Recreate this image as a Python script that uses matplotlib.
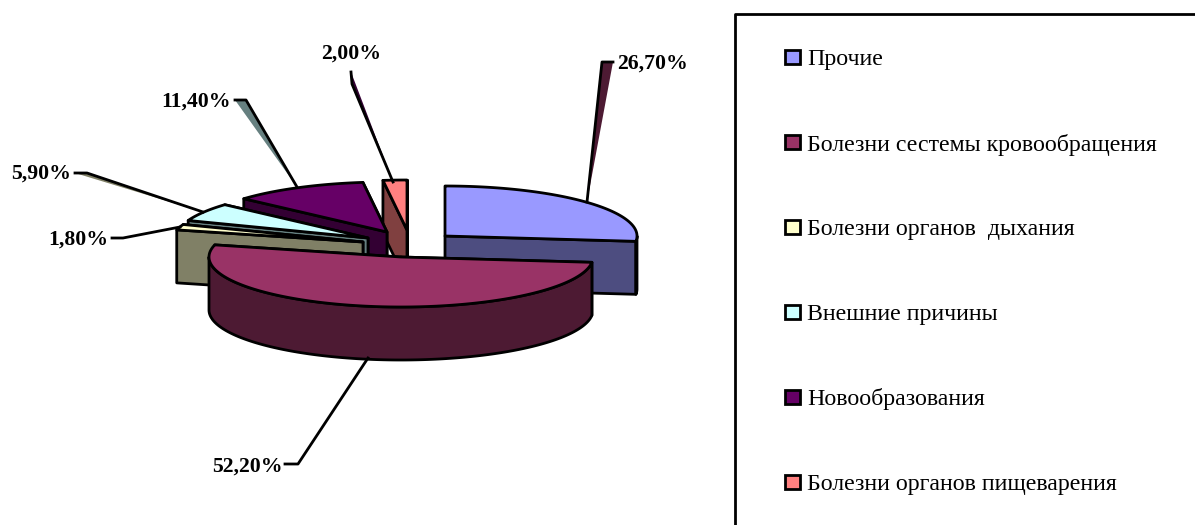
import numpy as np
import matplotlib
matplotlib.use("Agg")
import matplotlib.pyplot as plt
from matplotlib.colors import to_rgb

plt.rcParams["font.family"] = ["Liberation Serif", "DejaVu Serif"]

# Структура причин, %
names = ["Прочие", "Болезни сестемы кровообращения", "Болезни органов  дыхания",
         "Внешние причины", "Новообразования", "Болезни органов пищеварения"]
shares = [26.7, 52.2, 1.8, 5.9, 11.4, 2.0]
share_labels = ["26,70%", "52,20%", "1,80%", "5,90%", "11,40%", "2,00%"]
colors = ["#9999FF", "#993366", "#FFFFCC", "#CCFFFF", "#660066", "#FF8080"]

# геометрия псевдо-3D круга (в пикселях рисунка)
RX, RY = 192.0, 50.0
DEPTH = 53.0
LW = 2.0
apex = [(445, 236), (401, 257), (363, 242), (368, 238), (387, 232), (407, 230)]
draw_order = [5, 0, 4, 3, 2, 1]

# линии-выноски: точка на секторе, излом, конец; заливка - тень соседнего сектора
leaders = [[(587, 202), (602, 62), (613, 62)],
           [(368, 358), (298, 464), (285, 464)],
           [(180, 227), (123, 238), (112, 238)],
           [(203, 212), (87, 173), (75, 173)],
           [(297, 187), (246, 100), (235, 100)],
           [(393, 182), (352, 84), (351, 72)]]
leader_fill = [1, None, None, 2, 3, 4]
label_pos = [(617, 63.5), (283, 466.5), (108, 239.5), (71, 174), (231, 102), (351, 54)]
label_ha = ["left", "right", "right", "right", "right", "center"]


def shade(c):
    return tuple(v * 0.5 for v in to_rgb(c))


def rim(center, t1, t2):
    t = np.radians(np.linspace(t1, t2, max(int(abs(t2 - t1)) * 2, 2)))
    return center[0] + RX * np.sin(t), center[1] - RY * np.cos(t)


def extrude(ax, xs, ys, color, z):
    px = np.r_[xs, xs[::-1]]
    py = np.r_[ys, ys[::-1] + DEPTH]
    ax.fill(px, py, facecolor=color, edgecolor="black", lw=LW, joinstyle="round", zorder=z)


fig = plt.figure(figsize=(11.95, 5.25), dpi=100)
ax = fig.add_axes([0, 0, 1, 1])
ax.set_xlim(0, 1195)
ax.set_ylim(525, 0)
ax.axis("off")

# границы секторов по часовой стрелке от верхней точки
edges = np.r_[0, np.cumsum(shares)] * 3.6

for rank, i in enumerate(draw_order):
    t1, t2 = edges[i], edges[i + 1]
    c = apex[i]
    z = 2 + rank
    dark = shade(colors[i])

    # радиальные грани: сначала дальняя, потом ближняя
    for t in sorted([t1, t2], key=lambda a: -np.cos(np.radians(a))):
        ex, ey = rim(c, t, t)
        extrude(ax, np.array([c[0], ex[0]]), np.array([c[1], ey[0]]), dark, z)

    # внешняя стенка только на передней половине
    lo, hi = max(t1, 90), min(t2, 270)
    if hi > lo:
        wx, wy = rim(c, lo, hi)
        extrude(ax, wx, wy, dark, z)

    tx, ty = rim(c, t1, t2)
    ax.fill(np.r_[c[0], tx], np.r_[c[1], ty], facecolor=colors[i], edgecolor="black",
            lw=LW, joinstyle="round", zorder=z)

# выноски и подписи значений
for i in range(len(shares)):
    lx = [p[0] for p in leaders[i]]
    ly = [p[1] for p in leaders[i]]
    if leader_fill[i] is not None:
        ax.fill(lx, ly, facecolor=shade(colors[leader_fill[i]]), edgecolor="none", zorder=10)
    ax.plot(lx, ly, color="black", lw=LW, solid_joinstyle="round", zorder=11)
    ax.text(label_pos[i][0], label_pos[i][1], share_labels[i], ha=label_ha[i], va="center",
            fontsize=15.7, fontweight="bold", zorder=12)

# легенда
ax.plot([1195, 735.5, 735.5], [13.5, 13.5, 525], color="black", lw=LW, zorder=1)
row_y = np.linspace(57, 482, len(names))
for name, color, y in zip(names, colors, row_y):
    ax.fill([785.5, 800, 800, 785.5], [y - 7, y - 7, y + 7, y + 7], facecolor=color,
            edgecolor="black", lw=LW, zorder=2)
    ax.text(807, y + 2.5, name, ha="left", va="center", fontsize=17.2)

fig.savefig("out.png", dpi=100)
